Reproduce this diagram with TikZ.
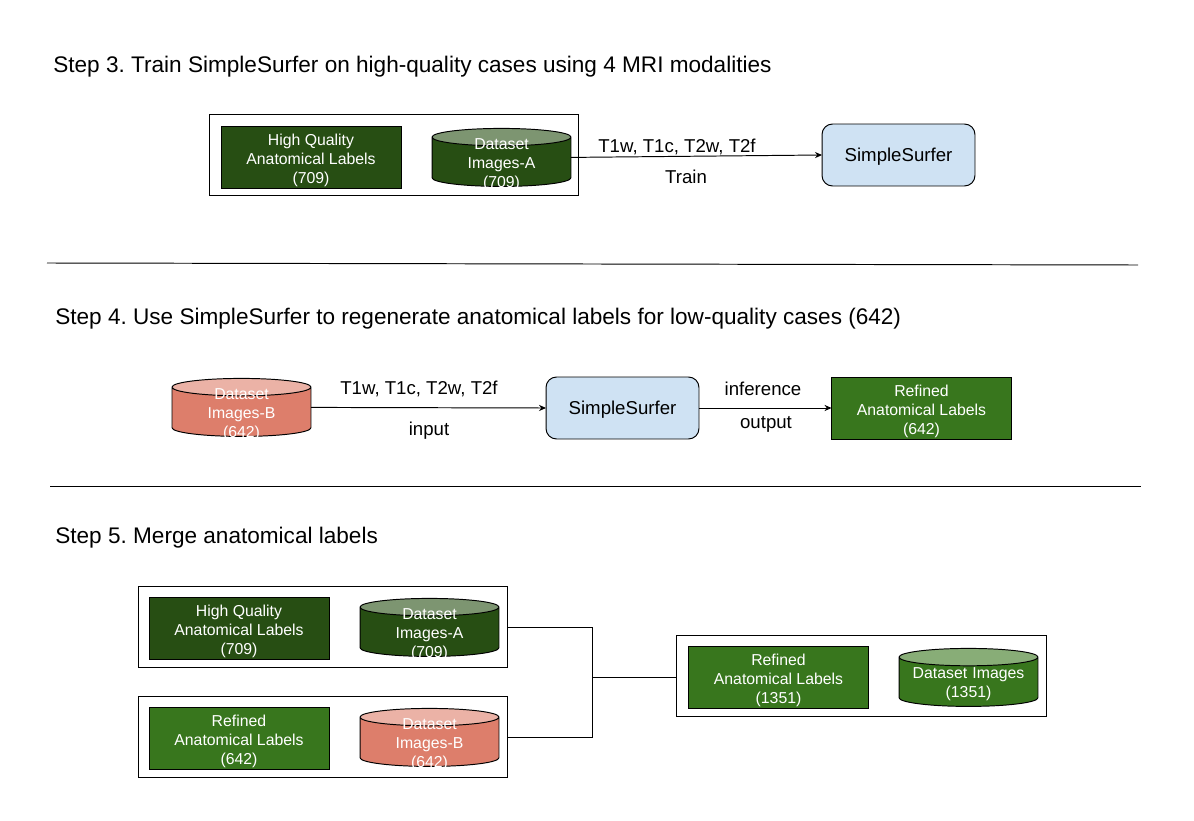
\documentclass[tikz,border=0pt]{standalone}
\usepackage{fontspec}
\setmainfont{Liberation Sans}
\usetikzlibrary{shapes.geometric,arrows.meta}

\definecolor{darkgreen}{HTML}{274E13}
\definecolor{midgreen}{HTML}{38761D}
\definecolor{salmon}{HTML}{DD7E6B}
\definecolor{paleblue}{HTML}{CFE2F3}

\frenchspacing

\tikzset{
  stepline/.style={line width=0.55pt, black},
  steptitle/.style={anchor=west, inner sep=0pt, font=\fontsize{12.85}{15}\selectfont},
  edgetext/.style={inner sep=0pt, font=\fontsize{10.6}{12}\selectfont},
  outerbox/.style={draw, stepline, outer sep=0pt, minimum width=7.4cm, minimum height=1.62cm},
  labelbox/.style={draw, stepline, outer sep=0pt, inner sep=0pt, minimum width=3.6cm, minimum height=1.24cm, text=white, align=center, text height=31.5pt, font=\fontsize{9}{10.8}\selectfont},
  modelbox/.style={draw, stepline, fill=paleblue, rounded corners=6pt, outer sep=0pt, minimum width=3.06cm, minimum height=1.24cm, text height=10pt, font=\fontsize{10.6}{12}\selectfont},
  datacyl/.style={draw, stepline, shape=cylinder, shape border rotate=90, aspect=0.125, outer sep=0pt, inner xsep=0pt, inner ysep=-12pt, text width=2.78cm, minimum width=2.78cm, minimum height=1.16cm, cylinder uses custom fill, text=white, align=center, text height=8.8pt, font=\fontsize{9}{10.8}\selectfont},
  greencyl/.style={datacyl, cylinder body fill=darkgreen, cylinder end fill=darkgreen!60!white},
  redcyl/.style={datacyl, cylinder body fill=salmon, cylinder end fill=salmon!60!white},
  midcyl/.style={datacyl, text height=8.2pt, cylinder body fill=midgreen, cylinder end fill=midgreen!60!white},
  flow/.style={stepline, -{Stealth[length=4pt,width=3.5pt]}}
}

\begin{document}
\begin{tikzpicture}[x=0.02cm, y=-0.02cm]

\useasboundingbox (0,0) rectangle (1194,821);

% step 3
\node[steptitle] (titleA) at (53,67) {Step 3. Train SimpleSurfer on high-quality cases using 4 MRI modalities};
\node[outerbox] (trainbox) at (394,155) {};
\node[labelbox, fill=darkgreen] (hqA) at (311,157) {High Quality\\Anatomical Labels\\(709)};
\node[greencyl] (imgA) at (501.5,162) {Dataset\\Images-A\\(709)};
\node[modelbox] (surferA) at (898.5,155) {SimpleSurfer};
\node[edgetext] (modA) at (677,147) {T1w, T1c, T2w, T2f};
\node[edgetext] (trainlbl) at (686,177) {Train};
\draw[flow] (imgA.east |- imgA.shape center) -- (surferA.west);

\draw[stepline] (47,263) -- (1138,265);

% step 4
\node[steptitle] (titleB) at (55,319) {Step 4. Use SimpleSurfer to regenerate anatomical labels for low-quality cases (642)};
\node[redcyl] (imgB) at (241.5,412) {Dataset\\Images-B\\(642)};
\node[modelbox] (surferB) at (622.5,408) {SimpleSurfer};
\node[labelbox, fill=midgreen] (refB) at (921.5,408) {Refined\\Anatomical Labels\\(642)};
\node[edgetext] (modB) at (419,389) {T1w, T1c, T2w, T2f};
\node[edgetext] (inputlbl) at (429,431) {input};
\node[edgetext] (inflbl) at (763,389) {inference};
\node[edgetext] (outlbl) at (766,424) {output};
\draw[flow] (imgB.east |- imgB.shape center) -- (surferB.west);
\draw[flow] (surferB) -- (refB);

\draw[stepline] (50,486) -- (1141,486);

% step 5
\node[steptitle] (titleC) at (55,538) {Step 5. Merge anatomical labels};
\node[outerbox] (topbox) at (323,627) {};
\node[labelbox, fill=darkgreen] (hqC) at (239,628) {High Quality\\Anatomical Labels\\(709)};
\node[greencyl] (imgC) at (429.5,632) {Dataset\\Images-A\\(709)};
\node[outerbox] (lowbox) at (323,737) {};
\node[labelbox, fill=midgreen] (refC) at (239,738) {Refined\\Anatomical Labels\\(642)};
\node[redcyl] (imgD) at (429.5,742) {Dataset\\Images-B\\(642)};
\node[outerbox] (mergebox) at (861.5,676) {};
\node[labelbox, fill=midgreen] (refE) at (778.5,677.5) {Refined\\Anatomical Labels\\(1351)};
\node[midcyl] (imgE) at (968.5,682) {Dataset Images\\(1351)};

\coordinate (joint) at (592,677);
\draw[stepline] (topbox.east) -| (joint);
\draw[stepline] (lowbox.east) -| (joint);
\draw[stepline] (joint) -- (mergebox.west |- joint);

\end{tikzpicture}
\end{document}
